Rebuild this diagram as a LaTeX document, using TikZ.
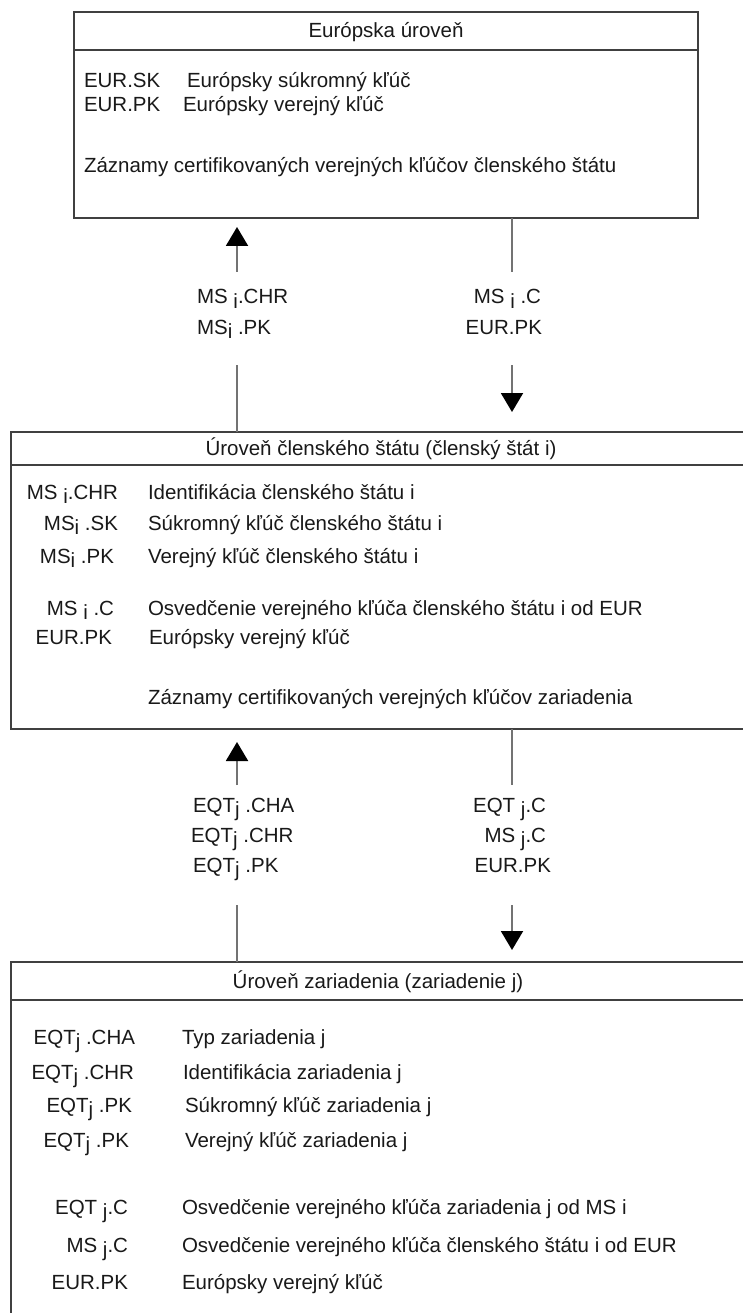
\documentclass[tikz,border=0pt]{standalone}
\usepackage{fontspec}
\setmainfont{Liberation Sans}
\usetikzlibrary{arrows.meta}
% lowered index letter (i, j) as printed in the key names
\newcommand\lo[1]{\raisebox{-0.4ex}{#1}}

\begin{document}
\begin{tikzpicture}[x=1pt,y=-1pt,
  every node/.style={inner sep=0pt, outer sep=0pt},
  txt/.style={font=\fontsize{20.5}{24}\selectfont, text=black!90},
  frame/.style={draw=black!75, line width=2.2pt, anchor=north west},
  conn/.style={draw=black!55, line width=2pt},
  arr/.style={conn, -{Triangle[width=22pt,length=19pt,color=black]}},
]
\useasboundingbox (0,0) rectangle (743,1313);
\clip (0,0) rectangle (743,1313);
\fill[white] (0,0) rectangle (743,1313);

% ---------------- European level ----------------
\node[frame, minimum width=624pt, minimum height=38pt]  (eurHead) at (74,12) {};
\node[frame, minimum width=624pt, minimum height=168pt] (eurBody) at (74,50) {};
\node[txt, anchor=base] (eurTitle) at (386,38) {Európska úroveň};
\node[txt, anchor=base west] (eurK1) at (84,88)  {EUR.SK};
\node[txt, anchor=base west] (eurD1) at (187,88) {Európsky súkromný kľúč};
\node[txt, anchor=base west] (eurK2) at (84,112) {EUR.PK};
\node[txt, anchor=base west] (eurD2) at (183,112) {Európsky verejný kľúč};
\node[txt, anchor=base west] (eurD3) at (84,173) {Záznamy certifikovaných verejných kľúčov členského štátu};

% ---------------- Member state level ----------------
\node[frame, minimum width=741pt, minimum height=33pt]  (msHead) at (11,432) {};
\node[frame, minimum width=741pt, minimum height=264pt] (msBody) at (11,465) {};
\node[txt, anchor=base] (msTitle) at (381,455) {Úroveň členského štátu (členský štát i)};
\node[txt, anchor=base east] (msK1) at (118,499) {MS \lo{i}.CHR};
\node[txt, anchor=base west] (msD1) at (148,499) {Identifikácia členského štátu i};
\node[txt, anchor=base east] (msK2) at (118,530) {MS\lo{i} .SK};
\node[txt, anchor=base west] (msD2) at (148,530) {Súkromný kľúč členského štátu i};
\node[txt, anchor=base east] (msK3) at (114,563) {MS\lo{i} .PK};
\node[txt, anchor=base west] (msD3) at (148,563) {Verejný kľúč členského štátu i};
\node[txt, anchor=base east] (msK4) at (114,615) {MS \lo{i} .C};
\node[txt, anchor=base west] (msD4) at (148,615) {Osvedčenie verejného kľúča členského štátu i od EUR};
\node[txt, anchor=base east] (msK5) at (112,644) {EUR.PK};
\node[txt, anchor=base west] (msD5) at (149,644) {Európsky verejný kľúč};
\node[txt, anchor=base west] (msD6) at (148,704) {Záznamy certifikovaných verejných kľúčov zariadenia};

% ---------------- Equipment level ----------------
\node[frame, minimum width=741pt, minimum height=38pt]  (eqHead) at (11,962) {};
\node[frame, minimum width=741pt, minimum height=380pt] (eqBody) at (11,1000) {};
\node[txt, anchor=base] (eqTitle) at (378,988) {Úroveň zariadenia (zariadenie j)};
\node[txt, anchor=base east] (eqK1) at (135,1044) {EQT\lo{j} .CHA};
\node[txt, anchor=base west] (eqD1) at (182,1044) {Typ zariadenia j};
\node[txt, anchor=base east] (eqK2) at (134,1079) {EQT\lo{j} .CHR};
\node[txt, anchor=base west] (eqD2) at (183,1079) {Identifikácia zariadenia j};
\node[txt, anchor=base east] (eqK3) at (132,1112) {EQT\lo{j} .PK};
\node[txt, anchor=base west] (eqD3) at (185,1112) {Súkromný kľúč zariadenia j};
\node[txt, anchor=base east] (eqK4) at (129,1147) {EQT\lo{j} .PK};
\node[txt, anchor=base west] (eqD4) at (185,1147) {Verejný kľúč zariadenia j};
\node[txt, anchor=base east] (eqK5) at (128,1214) {EQT \lo{j}.C};
\node[txt, anchor=base west] (eqD5) at (182,1214) {Osvedčenie verejného kľúča zariadenia j od MS i};
\node[txt, anchor=base east] (eqK6) at (128,1252) {MS \lo{j}.C};
\node[txt, anchor=base west] (eqD6) at (182,1252) {Osvedčenie verejného kľúča členského štátu i od EUR};
\node[txt, anchor=base east] (eqK7) at (128,1289) {EUR.PK};
\node[txt, anchor=base west] (eqD7) at (182,1289) {Európsky verejný kľúč};

% ---------------- Exchanges: member state <-> Europe ----------------
\node[txt, anchor=base west] (up1a) at (197,304) {MS \lo{i}.CHR};
\node[txt, anchor=base west] (up1b) at (197,334) {MS\lo{i} .PK};
\coordinate (up1top) at (237,272);
\coordinate (up1bot) at (237,365);
\draw[conn] (msHead.north -| up1bot) -- (up1bot);
\draw[arr, shorten >=9pt] (up1top) -- (eurBody.south -| up1top);

\node[txt, anchor=base east] (dn1a) at (541,304) {MS \lo{i} .C};
\node[txt, anchor=base east] (dn1b) at (542,334) {EUR.PK};
\coordinate (dn1top) at (512,272);
\coordinate (dn1bot) at (512,365);
\draw[conn] (eurBody.south -| dn1top) -- (dn1top);
\draw[arr, shorten >=20pt] (dn1bot) -- (msHead.north -| dn1bot);

% ---------------- Exchanges: equipment <-> member state ----------------
\node[txt, anchor=base west] (up2a) at (193,812) {EQT\lo{j} .CHA};
\node[txt, anchor=base west] (up2b) at (191,842) {EQT\lo{j} .CHR};
\node[txt, anchor=base west] (up2c) at (193,872) {EQT\lo{j} .PK};
\coordinate (up2top) at (237,785);
\coordinate (up2bot) at (237,905);
\draw[conn] (eqHead.north -| up2bot) -- (up2bot);
\draw[arr, shorten >=13pt] (up2top) -- (msBody.south -| up2top);

\node[txt, anchor=base east] (dn2a) at (546,812) {EQT \lo{j}.C};
\node[txt, anchor=base east] (dn2b) at (546,842) {MS \lo{j}.C};
\node[txt, anchor=base east] (dn2c) at (551,872) {EUR.PK};
\coordinate (dn2top) at (512,785);
\coordinate (dn2bot) at (512,905);
\draw[conn] (msBody.south -| dn2top) -- (dn2top);
\draw[arr, shorten >=12pt] (dn2bot) -- (eqHead.north -| dn2bot);
\end{tikzpicture}
\end{document}
